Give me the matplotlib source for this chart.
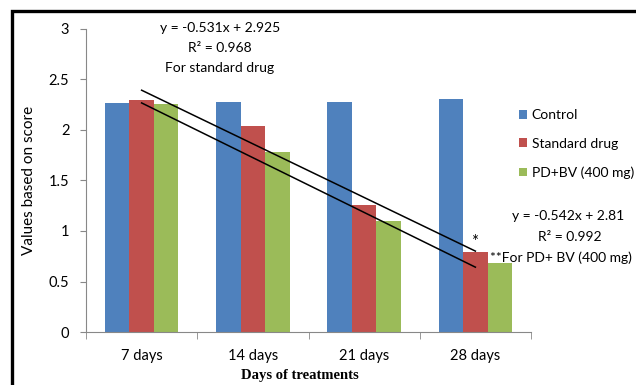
import matplotlib.pyplot as plt
import numpy as np
from matplotlib.patches import Rectangle

days = ['7 days', '14 days', '21 days', '28 days']
control = [2.27, 2.28, 2.28, 2.31]
standard_drug = [2.30, 2.04, 1.26, 0.79]
pd_bv = [2.26, 1.78, 1.10, 0.68]

# trend lines (from the equations printed on the chart, x = 1..4)
std_slope, std_icept = -0.531, 2.925
pd_slope, pd_icept = -0.542, 2.81

plt.rcParams['font.family'] = ['Lato', 'DejaVu Sans']

fig = plt.figure(figsize=(6.36, 3.85), dpi=100)
ax = fig.add_axes([86 / 636, 1 - 332 / 385, (531 - 86) / 636, (332 - 29) / 385])

x = np.arange(len(days))
w = 0.22
ax.bar(x - w, control, w, color='#4F81BD', label='Control')
ax.bar(x, standard_drug, w, color='#C0504D', label='Standard drug')
ax.bar(x + w, pd_bv, w, color='#9BBB59', label='PD+BV (400 mg)')

xs = np.array([1, 4])
ax.plot(xs - 1, std_slope * xs + std_icept, color='black', lw=1.1, zorder=5)
ax.plot(xs - 1, pd_slope * xs + pd_icept, color='black', lw=1.1, zorder=5)

ax.set_xlim(-0.5, 3.5)
ax.set_ylim(0, 3)
ax.set_yticks([0, 0.5, 1, 1.5, 2, 2.5, 3])
ax.set_yticklabels(['0', '0.5', '1', '1.5', '2', '2.5', '3'])
ax.set_xticks(x)
ax.set_xticklabels(days)
ax.set_xticks(np.arange(-0.5, 4, 1), minor=True)
ax.tick_params(axis='x', which='major', length=0, pad=12, labelsize=10.5)
ax.tick_params(axis='x', which='minor', length=5, color='#888888')
ax.tick_params(axis='y', length=4, color='#888888', labelsize=10.5, pad=8)
for s in ['top', 'right']:
    ax.spines[s].set_visible(False)
for s in ['left', 'bottom']:
    ax.spines[s].set_color('#888888')
    ax.spines[s].set_linewidth(0.8)

ax.set_ylabel('Values based on score', fontsize=11, labelpad=9)
fig.text(300 / 636, 1 - 376 / 385, 'Days of treatments', family='Liberation Serif',
         fontweight='bold', fontsize=10.5, ha='center', va='center')

leg = ax.legend(loc='upper left', bbox_to_anchor=(519 / 636, 1 - 109 / 385),
                bbox_transform=fig.transFigure, frameon=False, fontsize=10,
                handlelength=0.6, handleheight=0.6, handletextpad=0.3,
                labelspacing=1.2, borderpad=0, borderaxespad=0)

tk = dict(fontsize=10, ha='center', va='center')
fig.text(220 / 636, 1 - 28 / 385, 'y = -0.531x + 2.925', **tk)
fig.text(220 / 636, 1 - 48 / 385, 'R² = 0.968', **tk)
fig.text(220 / 636, 1 - 68 / 385, 'For standard drug', **tk)
fig.text(568 / 636, 1 - 216 / 385, 'y = -0.542x + 2.81', **tk)
fig.text(570 / 636, 1 - 237 / 385, 'R² = 0.992', **tk)
fig.text(475 / 636, 1 - 242 / 385, '*', fontsize=12, ha='center', va='center')
fig.text(490 / 636, 1 - 258 / 385, '**For PD+ BV (400 mg)', fontsize=10, ha='left', va='center')

fig.patches.append(Rectangle((12 / 636, -0.1), 1.2, 1.1 - 11 / 385, transform=fig.transFigure,
                             fill=False, edgecolor='black', lw=2.4))

fig.savefig('out.png', dpi=100)
